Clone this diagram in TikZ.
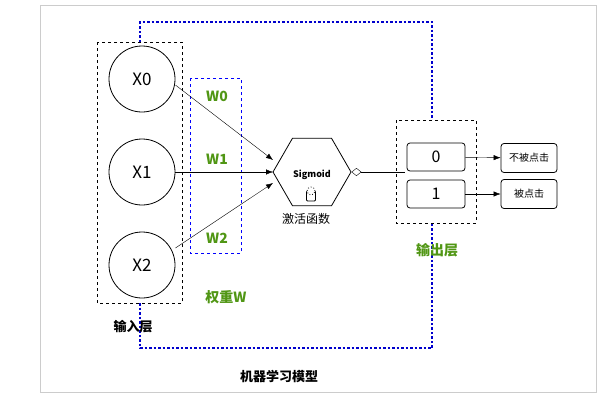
\documentclass[tikz,border=0pt]{standalone}
\usepackage{fontspec}
\setmainfont{Noto Sans CJK SC}
\usetikzlibrary{shapes.geometric,arrows.meta}
\definecolor{wgreen}{RGB}{80,150,20}
\begin{document}
\begin{tikzpicture}[x=1pt,y=-1pt,
  every node/.style = {align=center},
  unit/.style = {shape=circle, draw, thick, minimum size=66pt, font=\fontsize{17}{17}\selectfont},
  box/.style = {shape=rectangle, rounded corners=3pt, draw, thick},
  grp/.style = {draw, dashed, thick},
  link/.style = {draw, -{Latex[length=7pt]}},
  green label/.style = {text=wgreen, font=\bfseries\fontsize{14}{14}\selectfont}]
  \useasboundingbox (0,0) rectangle (616,402);
  \draw[black!20] (40,5) rectangle (596,392);
  % feedback loop
  \draw[blue!80!black, line width=2.5pt, dotted]
    (140,42) -- (140,22) -- (432,22) -- (432,120)
    (140,303) -- (140,348) -- (432,348) -- (432,223);
  % input layer
  \draw[grp, fill=white] (97,42) rectangle (182,303);
  \node[unit, fill=white] (x0) at (142,79) {X0};
  \node[unit, fill=white] (x1) at (142,172) {X1};
  \node[unit, fill=white] (x2) at (142,265) {X2};
  % weights
  \draw[grp, blue, thin] (190,78) rectangle (241,253);
  \node[green label] (w0) at (217,96) {W0};
  \node[green label] (w1) at (217,159) {W1};
  \node[green label] (w2) at (217,238) {W2};
  % activation
  \node[shape=regular polygon, regular polygon sides=6, draw, thick,
    minimum size=78pt, inner sep=0pt] (act) at (312,172) {};
  \node[font=\bfseries\fontsize{9}{9}\selectfont] (sig) at (312,175) {Sigmoid};
  \node[draw, thick, rounded corners=1pt, minimum width=9pt, minimum height=10pt, inner sep=0pt, fill=white] (icon) at (311,196) {};
  \node[draw, thick, circle, minimum size=8pt, inner sep=0pt, fill=white, dotted] (gear) at (311,191) {};
  \node[font=\fontsize{12}{12}\selectfont] (actlabel) at (306,219) {激活函数};
  \coordinate (in0) at (273,160);
  \coordinate (in1) at (273,172);
  \coordinate (in2) at (273,183);
  \path[link] (x0.east) ++(0,6) coordinate (a0) (a0) -- (in0);
  \path[link] (x1.east) -- (in1);
  \path[link] (x2.east) ++(0,-17) coordinate (a2) (a2) -- (in2);
  % output layer
  \draw[grp, fill=white] (396,120) rectangle (476,223);
  \node[box, minimum width=58pt, minimum height=28pt, font=\fontsize{16}{16}\selectfont] (o0) at (436,157) {0};
  \node[box, minimum width=58pt, minimum height=28pt, font=\fontsize{16}{16}\selectfont] (o1) at (436,194) {1};
  \node[box, minimum width=56pt, minimum height=29pt, font=\fontsize{10}{10}\selectfont] (c0) at (529,158) {不被点击};
  \node[box, minimum width=56pt, minimum height=29pt, font=\fontsize{10}{10}\selectfont] (c1) at (529,194) {被点击};
  \coordinate (outin) at (405,172);
  \draw[-{Latex[length=7pt]}, {Diamond[open,length=10pt,width=8pt]}-] (act.east) -- (outin);
  \path[link] (o0) -- (c0);
  \path[link] (o1) -- (c1);
  % labels
  \node[green label] (outlabel) at (437,250) {输出层};
  \node[green label] (wlabel) at (226,297) {权重W};
  \node[font=\bfseries\fontsize{13}{13}\selectfont] (inlabel) at (133,327) {输入层};
  \node[font=\bfseries\fontsize{13}{13}\selectfont] (model) at (279,376) {机器学习模型};
\end{tikzpicture}
\end{document}
